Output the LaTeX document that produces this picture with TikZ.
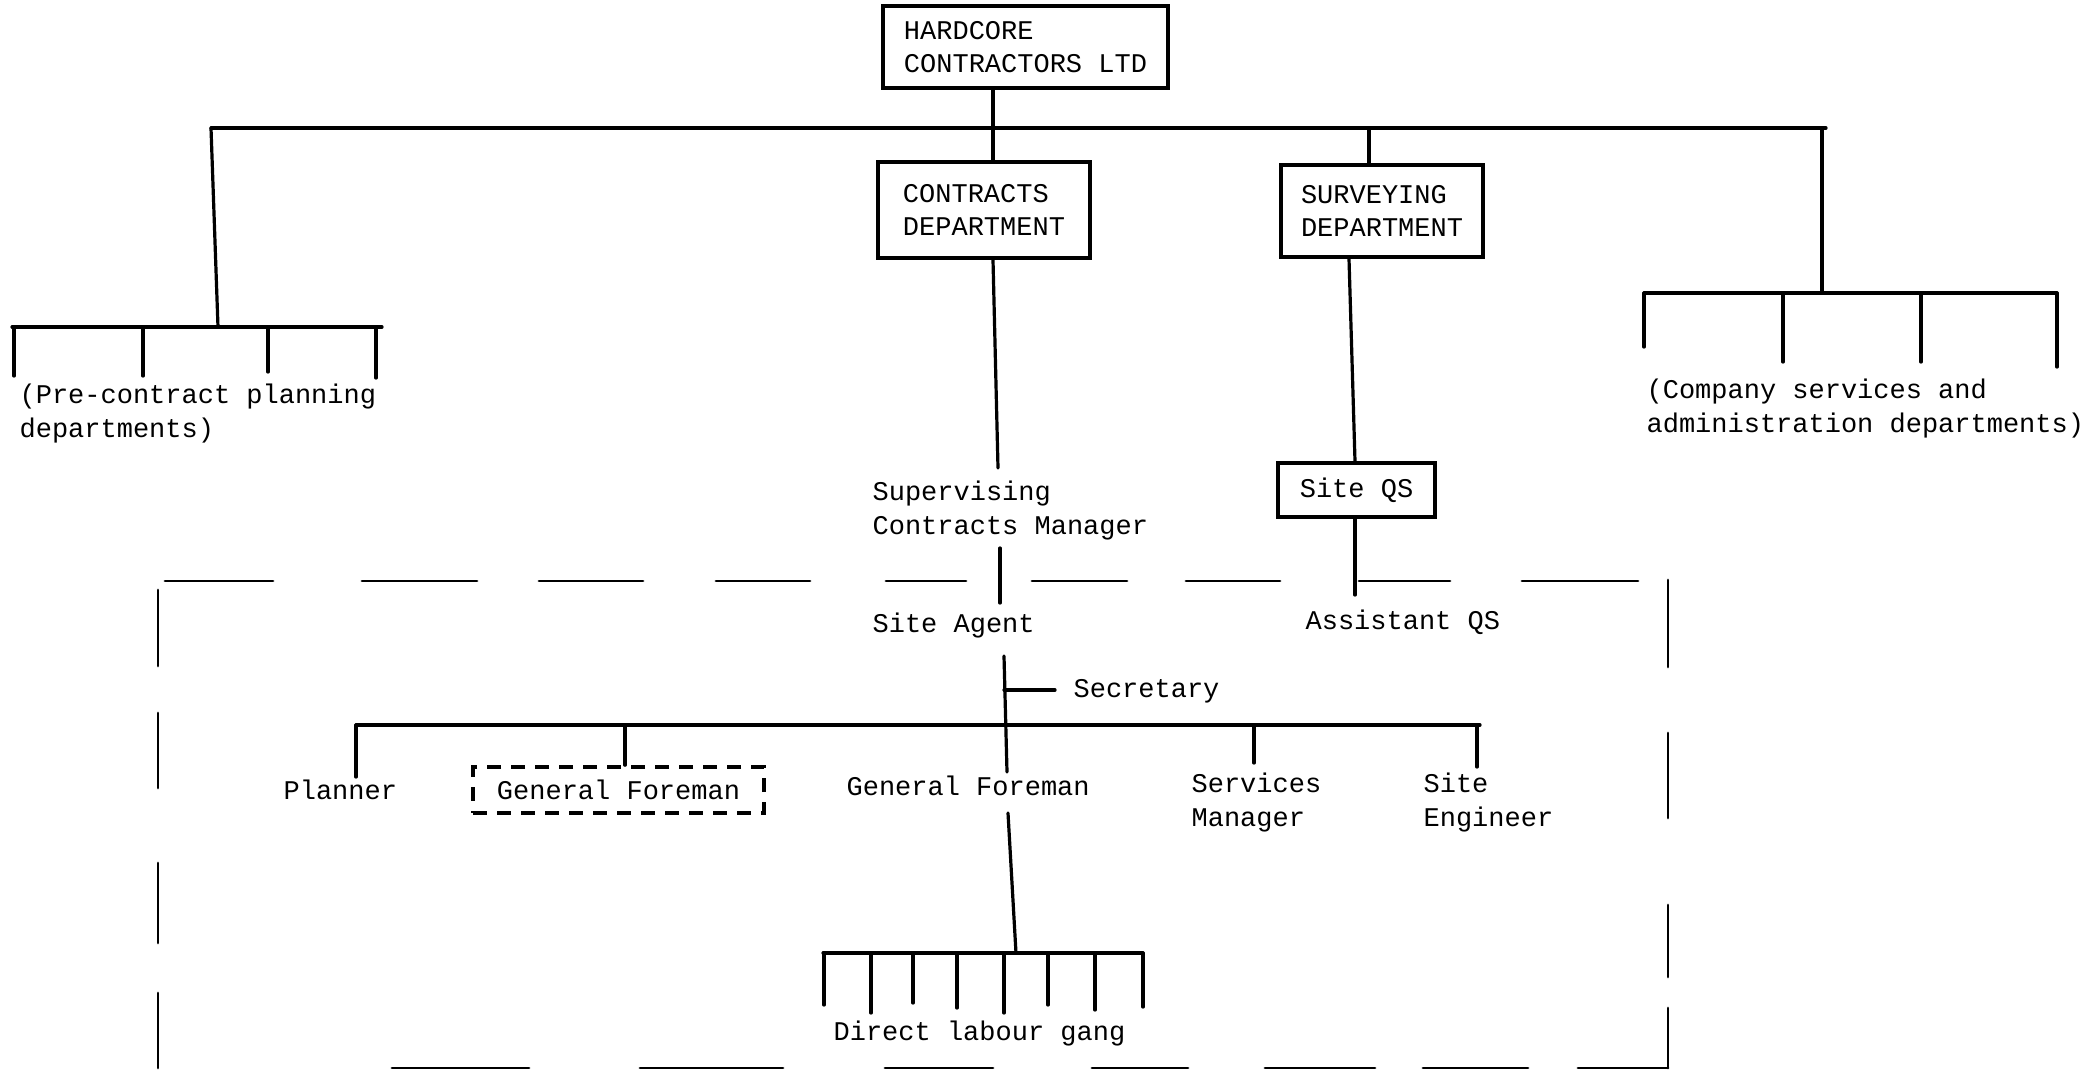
\documentclass[tikz,border=0pt]{standalone}
\usepackage{fontspec}
\newfontfamily\tw{Liberation Mono}
\begin{document}
\begin{tikzpicture}[x=0.5pt,y=-0.5pt,line width=1.6pt,line cap=round,
  tfont/.style={font=\tw\fontsize{13.5}{16.8}\selectfont},
  txt/.style={tfont,inner sep=0pt,anchor=base west,align=left},
  box/.style={tfont,draw,line width=1.8pt,align=left,inner sep=0pt},
  dbox/.style={box,line cap=butt,dash pattern=on 7pt off 5pt},
  frame/.style={line width=1.4pt}]
\useasboundingbox (0,0) rectangle (2084,1072);

% boxes
\node[box,minimum width=142.5pt,minimum height=41pt] (hc) at (1025.5,47) {HARDCORE\\CONTRACTORS LTD};
\node[box,minimum width=106pt,minimum height=48pt] (cd) at (984,210) {CONTRACTS\\DEPARTMENT};
\node[box,minimum width=101pt,minimum height=46pt] (sd) at (1382,211) {SURVEYING\\DEPARTMENT};
\node[box,minimum width=78.5pt,minimum height=27pt] (qs) at (1356.5,490) {Site QS};
\node[dbox,minimum width=145.5pt,minimum height=23pt] (gf2) at (618.5,790) {General Foreman};

% text nodes (multi-line nodes: base is the last line)
\node[txt] (pre) at (18,437) {(Pre-contract planning\\departments)};
\node[txt] (comp) at (1645,432) {(Company services and\\administration departments)};
\node[txt] (scm) at (871,534) {Supervising\\Contracts Manager};
\node[txt] (sa) at (871,632) {Site Agent};
\node[txt] (aqs) at (1304,629) {Assistant QS};
\node[txt] (sec) at (1072,697) {Secretary};
\node[txt] (pl) at (282,799) {Planner};
\node[txt] (gf) at (845,795) {General Foreman};
\node[txt] (sm) at (1190,826) {Services\\Manager};
\node[txt] (se) at (1422,826) {Site\\Engineer};
\node[txt] (dlg) at (832,1040) {Direct labour gang};

% top structure
\coordinate (tl) at (211,128);
\coordinate (tr) at (1826,128);
\coordinate (xc) at (993,0);
\coordinate (xs) at (1369,0);
\draw (tl) -- (tr);
\draw (hc.south -| xc) -- (cd.north -| xc);
\draw (tr -| xs) -- (sd.north -| xs);

% left group
\coordinate (lb) at (218,327);
\coordinate (lbl) at (12,327);
\coordinate (lbr) at (382,327);
\draw (tl) -- (lb);
\draw (lbl) -- (lbr);
\foreach \i/\x/\y in {1/14/376,2/143/376,3/268/372,4/376/378}{
  \coordinate (lt\i) at (\x,\y);
  \draw (lt\i |- lbl) -- (lt\i);
}

% right group
\coordinate (rb) at (1822,293);
\coordinate (rbl) at (1644,293);
\coordinate (rbr) at (2057,293);
\draw (tr -| rb) -- (rb);
\draw (rbl) -- (rbr);
\foreach \i/\x/\y in {1/1644/347,2/1783/362,3/1921/362,4/2057/367}{
  \coordinate (rt\i) at (\x,\y);
  \draw (rt\i |- rbl) -- (rt\i);
}

% contracts branch
\coordinate (c1) at (998,468);
\coordinate (c2) at (1000,548);
\coordinate (c3) at (1000,603);
\coordinate (c4) at (1004,656);
\coordinate (c5) at (1007,772);
\coordinate (c6) at (1004,690);
\coordinate (c7) at (1055,690);
\draw (cd.south -| xc) -- (c1);
\draw (c2) -- (c3);
\draw (c4) -- (c5);
\draw (c6) -- (c7);

% site bar
\coordinate (b1) at (356,725);
\coordinate (b2) at (1480,725);
\draw (b1) -- (b2);
\coordinate (p1) at (356,777);
\draw (b1) -- (p1);
\coordinate (g1) at (625,725);
\draw (g1) -- (gf2.north -| g1);
\coordinate (sm1) at (1254,725);
\coordinate (sm2) at (1254,763);
\draw (sm1) -- (sm2);
\coordinate (se1) at (1477,725);
\coordinate (se2) at (1477,767);
\draw (se1) -- (se2);

% labour gang
\coordinate (d1) at (1008,813);
\coordinate (d2) at (1016,953);
\draw (d1) -- (d2);
\coordinate (dl) at (823,953);
\coordinate (dr) at (1143,953);
\draw (dl) -- (dr);
\foreach \i/\x/\y in {1/824/1005,2/871/1013,3/913/1003,4/957/1008,5/1004/1013,6/1048/1005,7/1095/1010,8/1143/1007}{
  \coordinate (dt\i) at (\x,\y);
  \draw (dt\i |- dl) -- (dt\i);
}

% surveying branch
\coordinate (s1) at (1349,0);
\coordinate (s2) at (1355,0);
\coordinate (s3) at (1355,595);
\draw (sd.south -| s1) -- (qs.north -| s2);
\draw (qs.south -| s2) -- (s3);

% dashed site frame
\foreach \a/\b in {165/273,362/477,539/643,716/810,886/966,1032/1127,1186/1280,1359/1450,1522/1638}
  \draw[frame] (\a,581) -- (\b,581);
\foreach \a/\b in {392/529,640/783,885/993,1092/1188,1265/1375,1423/1528,1578/1668}
  \draw[frame] (\a,1068) -- (\b,1068);
\foreach \a/\b in {590/666,713/788,863/943,993/1068}
  \draw[frame] (158,\a) -- (158,\b);
\foreach \a/\b in {580/667,733/818,905/977,1008/1068}
  \draw[frame] (1668,\a) -- (1668,\b);
\end{tikzpicture}
\end{document}
